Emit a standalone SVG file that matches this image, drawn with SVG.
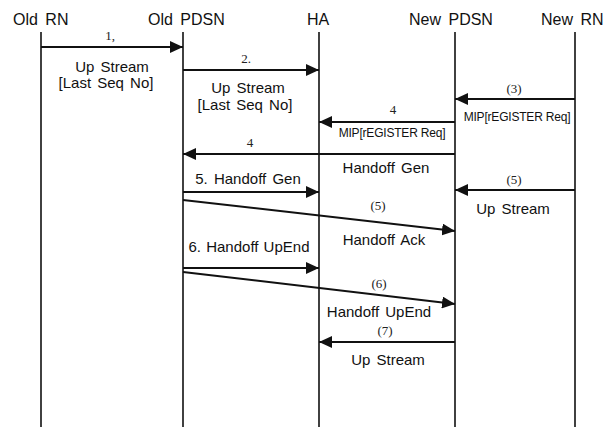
<svg xmlns="http://www.w3.org/2000/svg" width="614" height="427" viewBox="0 0 614 427">
<style>
.t{font-family:"Liberation Sans",Arial,sans-serif;font-size:16px;fill:#111;word-spacing:3px}
.m{font-family:"Liberation Sans",Arial,sans-serif;font-size:15px;fill:#111;word-spacing:2px;text-anchor:middle}
.s{font-family:"Liberation Sans",Arial,sans-serif;font-size:12px;fill:#111;text-anchor:middle;letter-spacing:-0.2px}
.n{font-family:"Liberation Serif","Times New Roman",serif;font-size:13px;fill:#222;text-anchor:middle}
.life{stroke:#111;stroke-width:1.6;fill:none}
.msg{stroke:#111;stroke-width:2;fill:none;marker-end:url(#ah)}
</style>
<defs>
<marker id="ah" markerUnits="userSpaceOnUse" markerWidth="14" markerHeight="12" refX="13" refY="6" orient="auto">
<path d="M0,0 L13,6 L0,12 Z" fill="#111"/>
</marker>
</defs>
<rect width="614" height="427" fill="#fff"/>
<g id="old-rn"><text class="t" x="13" y="25">Old RN</text><line class="life" x1="41" y1="32" x2="41" y2="427"/></g>
<g id="old-pdsn"><text class="t" x="148" y="25">Old PDSN</text><line class="life" x1="183" y1="32" x2="183" y2="427"/></g>
<g id="ha"><text class="t" x="307" y="25">HA</text><line class="life" x1="319" y1="32" x2="319" y2="427"/></g>
<g id="new-pdsn"><text class="t" x="409" y="25">New PDSN</text><line class="life" x1="455" y1="32" x2="455" y2="427"/></g>
<g id="new-rn"><text class="t" x="541" y="25">New RN</text><line class="life" x1="575" y1="32" x2="575" y2="427"/></g>
<g id="connectors">
<line class="msg" x1="41" y1="47" x2="183" y2="47"/>
<text class="n" x="110" y="40">1,</text>
<text class="m" x="112" y="72">Up Stream</text>
<text class="m" x="106" y="88">[Last Seq No]</text>
<line class="msg" x1="183" y1="70" x2="319" y2="70"/>
<text class="n" x="246" y="63">2.</text>
<text class="m" x="248" y="93">Up Stream</text>
<text class="m" x="245" y="110">[Last Seq No]</text>
<line class="msg" x1="575" y1="99" x2="455" y2="99"/>
<text class="n" x="514" y="93">(3)</text>
<text class="s" x="517" y="121">MIP[rEGISTER Req]</text>
<line class="msg" x1="455" y1="122" x2="319" y2="122"/>
<text class="n" x="393" y="114">4</text>
<text class="s" x="392" y="137">MIP[rEGISTER Req]</text>
<line class="msg" x1="455" y1="154" x2="183" y2="154"/>
<text class="n" x="250" y="147">4</text>
<text class="m" x="386" y="173">Handoff Gen</text>
<line class="msg" x1="183" y1="192" x2="319" y2="192"/>
<text class="m" x="248" y="184">5. Handoff Gen</text>
<line class="msg" x1="575" y1="190" x2="455" y2="190"/>
<text class="n" x="514" y="184">(5)</text>
<text class="m" x="513" y="214">Up Stream</text>
<line class="msg" x1="183" y1="200" x2="455" y2="231"/>
<text class="n" x="378" y="210">(5)</text>
<text class="m" x="384" y="245">Handoff Ack</text>
<line class="msg" x1="183" y1="268" x2="319" y2="268"/>
<text class="m" x="249" y="252" style="word-spacing:1px">6. Handoff UpEnd</text>
<line class="msg" x1="183" y1="272" x2="455" y2="304"/>
<text class="n" x="379" y="288">(6)</text>
<text class="m" x="379" y="317">Handoff UpEnd</text>
<line class="msg" x1="455" y1="342" x2="319" y2="342"/>
<text class="n" x="385" y="335">(7)</text>
<text class="m" x="388" y="365">Up Stream</text>
</g>
</svg>
